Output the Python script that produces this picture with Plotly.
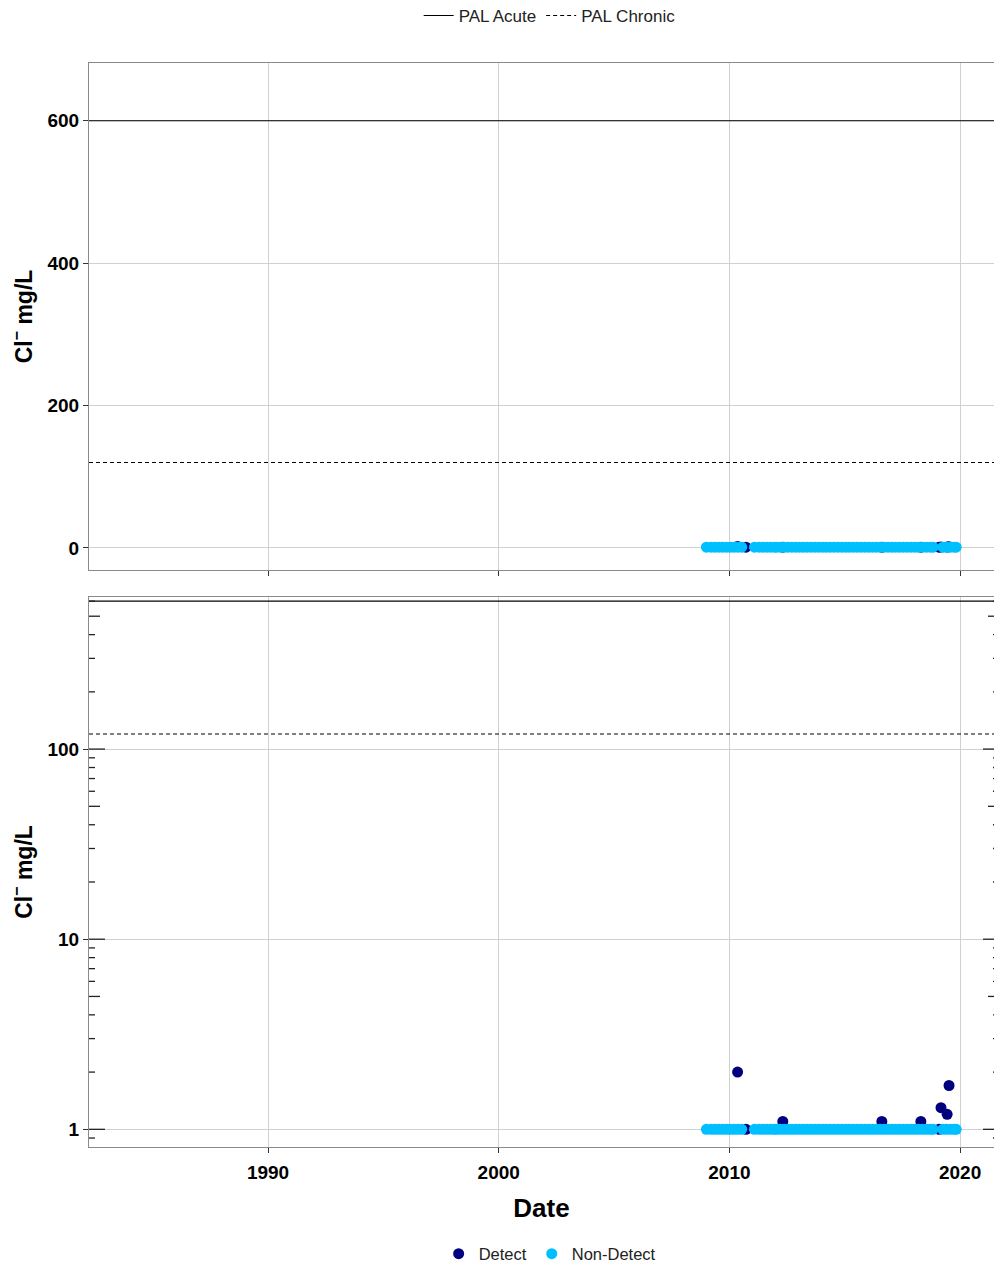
import pandas as pd
import plotly.graph_objects as go

# ---- data -------------------------------------------------------------
# Non-detect chloride results (reported at the 1 mg/L detection limit)
nd_dates = [
    "2009-01-01", "2009-03-15", "2009-05-15", "2009-07-15", "2009-09-15", "2009-11-15",
    "2010-01-15", "2010-03-15", "2010-05-15", "2010-07-15",
    "2011-02-01", "2011-04-15", "2011-06-15", "2011-08-15", "2011-10-15", "2011-12-15",
    "2012-01-15", "2012-03-15", "2012-05-15", "2012-07-15", "2012-09-15", "2012-11-15",
    "2013-01-15", "2013-03-15", "2013-05-15", "2013-07-15", "2013-09-15", "2013-11-15",
    "2014-01-15", "2014-03-15", "2014-05-15", "2014-07-15", "2014-09-15", "2014-11-15",
    "2015-01-15", "2015-03-15", "2015-05-15", "2015-07-15", "2015-09-15", "2015-11-15",
    "2016-01-15", "2016-03-15", "2016-05-15", "2016-07-15", "2016-09-15", "2016-11-15",
    "2017-01-15", "2017-03-15", "2017-05-15", "2017-07-15", "2017-09-15", "2017-11-15",
    "2018-01-15", "2018-03-15", "2018-05-15", "2018-07-15", "2018-09-15", "2018-11-01",
    "2019-04-01", "2019-06-01", "2019-08-01", "2019-10-01", "2019-11-01",
]
nd_values = [1.0] * len(nd_dates)

# Detected chloride results
det_dates = ["2010-05-10", "2010-09-20", "2012-04-25", "2016-08-10",
             "2018-04-20", "2019-02-01", "2019-03-05", "2019-06-10",
             "2019-07-10"]
det_values = [2.0, 1.0, 1.1, 1.1, 1.1, 1.0, 1.3, 1.2, 1.7]

# Protection of aquatic life guidelines (mg/L)
pal_acute = 600
pal_chronic = 120

x_range = ["1982-03-29", "2021-06-21"]
x_ticks = ["1990-01-01", "2000-01-01", "2010-01-01", "2020-01-01"]
x_ticktext = ["1990", "2000", "2010", "2020"]
lin_ticks = [0, 200, 400, 600]
log_ticks = [1, 10, 100]
lin_range = [-31, 681]
log_range = [-0.093, 2.80]

# ---- styling ----------------------------------------------------------
FONT = "Liberation Sans, Arial, sans-serif"
NAVY = "#00007f"
SKY = "#00bfff"
GRID = "#d0d0d0"
FRAME = "#8a8a8a"

W, H = 994, 1266
ML, MR, MT, MB = 89, 0, 63, 119
plot_h = H - MT - MB
top_dom = [(1147 - 570) / plot_h, 1.0]
bot_dom = [0.0, (1147 - 597) / plot_h]

fig = go.Figure()

for row, (xa, ya) in enumerate([("x", "y"), ("x2", "y2")]):
    first = row == 0
    fig.add_trace(go.Scatter(
        x=det_dates, y=det_values, mode="markers", name="Detect",
        marker=dict(color=NAVY, size=11), xaxis=xa, yaxis=ya,
        legend="legend2", showlegend=first, legendgroup="det"))
    fig.add_trace(go.Scatter(
        x=nd_dates, y=nd_values, mode="markers", name="Non-Detect",
        marker=dict(color=SKY, size=11), xaxis=xa, yaxis=ya,
        legend="legend2", showlegend=first, legendgroup="nd"))
    fig.add_trace(go.Scatter(
        x=x_range, y=[pal_acute, pal_acute], mode="lines", name="PAL Acute",
        line=dict(color="black", width=1.1), xaxis=xa, yaxis=ya,
        legend="legend", showlegend=first, legendgroup="acute"))
    fig.add_trace(go.Scatter(
        x=x_range, y=[pal_chronic, pal_chronic], mode="lines",
        name="PAL Chronic",
        line=dict(color="black", width=1.1, dash="4px,3px"),
        xaxis=xa, yaxis=ya, legend="legend", showlegend=first,
        legendgroup="chronic"))

tick_font = dict(family=FONT, size=19, color="black")
title_font = dict(family=FONT, size=23, color="black")
ytitle = "<b>Cl<sup>\u2212</sup> mg/L</b>"

common_x = dict(type="date", range=x_range, tickvals=x_ticks,
                ticktext=["<b>%s</b>" % t for t in x_ticktext],
                showgrid=True, gridcolor=GRID, gridwidth=1.3,
                ticks="outside", ticklen=5, tickcolor="#333333",
                showline=True, linecolor=FRAME, linewidth=1, mirror=True,
                zeroline=False, tickfont=tick_font)

common_y = dict(showgrid=True, gridcolor=GRID, gridwidth=1.3,
                ticks="outside", ticklen=5, tickcolor="#333333",
                showline=True, linecolor=FRAME, linewidth=1, mirror=True,
                zeroline=False, tickfont=tick_font,
                title=dict(text=ytitle, font=title_font, standoff=8))

fig.update_layout(
    width=W, height=H,
    margin=dict(l=ML, r=MR, t=MT, b=MB, autoexpand=False),
    paper_bgcolor="white", plot_bgcolor="white",
    font=dict(family=FONT, color="#222222"),
    xaxis=dict(common_x, anchor="y", showticklabels=False),
    xaxis2=dict(common_x, anchor="y2", matches="x", ticklabelstandoff=3,
                title=dict(text="<b>Date</b>",
                           font=dict(family=FONT, size=26, color="black"),
                           standoff=17)),
    yaxis=dict(common_y, domain=top_dom, range=lin_range, tickvals=lin_ticks,
               ticktext=["<b>%d</b>" % v for v in lin_ticks]),
    yaxis2=dict(common_y, domain=bot_dom, type="log", range=log_range,
                tickvals=log_ticks,
                ticktext=["<b>%d</b>" % v for v in log_ticks]),
    legend=dict(orientation="h", x=0.509, xanchor="center",
                y=1 + (MT - 16) / plot_h, yanchor="middle",
                font=dict(family=FONT, size=17, color="#222222"),
                bgcolor="rgba(0,0,0,0)", itemwidth=30),
    legend2=dict(orientation="h", x=0.509, xanchor="center",
                 y=-(1254 - 1147) / plot_h, yanchor="middle",
                 font=dict(family=FONT, size=16.5, color="#222222"),
                 bgcolor="rgba(0,0,0,0)", itemwidth=30),
    showlegend=True,
)

# Log tick annotations along both sides of the log panel
shapes = []
lo, hi = 10 ** log_range[0], 10 ** log_range[1]
for d in range(-1, 3):
    for k in range(1, 10):
        v = k * 10.0 ** d
        if not (lo <= v <= hi):
            continue
        length = 16 if k == 1 else (11 if k == 5 else 6)
        for side, x0, x1 in [(0, 0, length), (1, 5 - length, 5)]:
            shapes.append(dict(
                type="line", xref="paper", yref="y2",
                xsizemode="pixel", xanchor=side, x0=x0, x1=x1,
                y0=v, y1=v, line=dict(color="#222222", width=1.3),
                layer="above"))
fig.update_layout(shapes=shapes)

fig.write_html("out.html")
